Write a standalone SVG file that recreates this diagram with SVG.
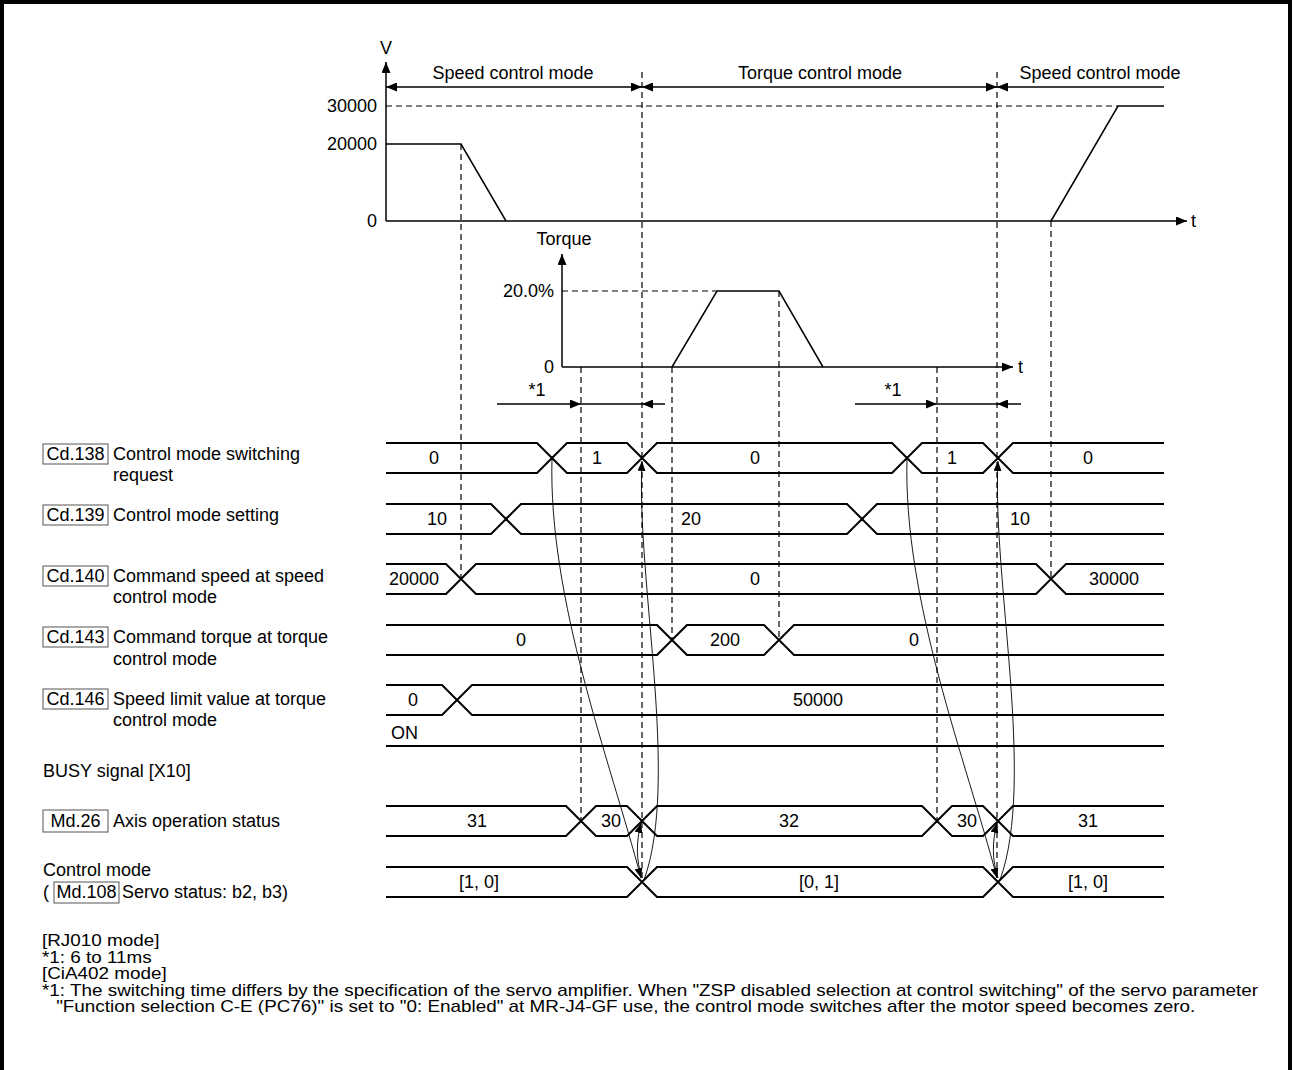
<svg xmlns="http://www.w3.org/2000/svg" width="1293" height="1070" viewBox="0 0 1293 1070">
<defs>
<style>
text{font-family:"Liberation Sans",Arial,sans-serif;font-size:18px;fill:#000}
.fn{font-size:16px}
.m{text-anchor:middle}
.e{text-anchor:end}
.ax{stroke:#000;stroke-width:1.5;fill:none}
.dash{stroke:#000;stroke-width:1.2;stroke-dasharray:6 4;fill:none}
.sig{stroke:#000;stroke-width:2;fill:none}
.cur{stroke:#000;stroke-width:0.9;fill:none}
.box{fill:#fff;stroke:#555;stroke-width:1}
</style>
<marker id="arr" markerUnits="userSpaceOnUse" markerWidth="11" markerHeight="9" refX="11" refY="4.5" orient="auto-start-reverse"><path d="M0,0 L11,4.5 L0,9 z" fill="#000"/></marker>
<marker id="arrS" markerUnits="userSpaceOnUse" markerWidth="10" markerHeight="8" refX="10" refY="4" orient="auto"><path d="M0,0 L10,4 L0,8 z" fill="#000"/></marker>
</defs>
<rect width="1293" height="1070" fill="#fff"/>
<path d="M2,1070 V2 H1290 V1070" stroke="#000" stroke-width="4" fill="none"/>

<g id="speed-chart">
<line class="ax" x1="386" y1="221" x2="386" y2="62" marker-end="url(#arr)"/>
<line class="ax" x1="386" y1="221" x2="1187" y2="221" marker-end="url(#arr)"/>
<text x="386" y="54" class="m">V</text>
<text x="1191" y="227">t</text>
<text x="377" y="112" class="e">30000</text>
<text x="377" y="150" class="e">20000</text>
<text x="377" y="227" class="e">0</text>
<line class="dash" x1="386" y1="106" x2="1118" y2="106"/>
<path class="ax" d="M386,144 H461 L506,221"/>
<path class="ax" d="M1051,221 L1118,106 H1164"/>
<line class="ax" x1="386" y1="87" x2="642" y2="87" marker-start="url(#arr)" marker-end="url(#arr)"/>
<line class="ax" x1="642" y1="87" x2="997" y2="87" marker-start="url(#arr)" marker-end="url(#arr)"/>
<line class="ax" x1="997" y1="87" x2="1164" y2="87" marker-start="url(#arr)"/>
<text x="513" y="79" class="m">Speed control mode</text>
<text x="820" y="79" class="m">Torque control mode</text>
<text x="1100" y="79" class="m">Speed control mode</text>
</g>

<g id="torque-chart">
<line class="ax" x1="562" y1="367" x2="562" y2="254" marker-end="url(#arr)"/>
<line class="ax" x1="562" y1="367" x2="1013" y2="367" marker-end="url(#arr)"/>
<text x="564" y="245" class="m">Torque</text>
<text x="1018" y="373">t</text>
<text x="554" y="297" class="e">20.0%</text>
<text x="554" y="373" class="e">0</text>
<line class="dash" x1="562" y1="291" x2="717" y2="291"/>
<path class="ax" d="M672,367 L717,291 H779 L823,367"/>
<text x="537" y="396" class="m">*1</text>
<text x="893" y="396" class="m">*1</text>
<line class="ax" x1="497" y1="404" x2="581" y2="404" marker-end="url(#arr)"/>
<line class="ax" x1="581" y1="404" x2="642" y2="404"/>
<line class="ax" x1="665" y1="404" x2="642" y2="404" marker-end="url(#arr)"/>
<line class="ax" x1="855" y1="404" x2="937" y2="404" marker-end="url(#arr)"/>
<line class="ax" x1="937" y1="404" x2="997" y2="404"/>
<line class="ax" x1="1021" y1="404" x2="997" y2="404" marker-end="url(#arr)"/>
</g>

<g id="guides">
<line class="dash" x1="461" y1="144" x2="461" y2="579"/>
<line class="dash" x1="642" y1="72" x2="642" y2="882"/>
<line class="dash" x1="997" y1="72" x2="997" y2="882"/>
<line class="dash" x1="1051" y1="221" x2="1051" y2="579"/>
<line class="dash" x1="581" y1="367" x2="581" y2="821"/>
<line class="dash" x1="937" y1="367" x2="937" y2="821"/>
<line class="dash" x1="672" y1="367" x2="672" y2="640"/>
<line class="dash" x1="779" y1="291" x2="779" y2="640"/>
</g>

<g id="cd138">
<rect class="box" x="43" y="444" width="65" height="20"/>
<text x="75.5" y="460" class="m">Cd.138</text>
<text x="113" y="460">Control mode switching</text>
<text x="113" y="481">request</text>
<path class="sig" d="M386,443 H537 L552,458 L537,473 H386 M552,458 L567,443 H627 L642,458 L627,473 H567 Z M642,458 L657,443 H892 L907,458 L892,473 H657 Z M907,458 L922,443 H983 L998,458 L983,473 H922 Z M1164,443 H1013 L998,458 L1013,473 H1164"/>
<text x="434" y="464" class="m">0</text>
<text x="597" y="464" class="m">1</text>
<text x="755" y="464" class="m">0</text>
<text x="952" y="464" class="m">1</text>
<text x="1088" y="464" class="m">0</text>
</g>

<g id="cd139">
<rect class="box" x="43" y="505" width="65" height="20"/>
<text x="75.5" y="521" class="m">Cd.139</text>
<text x="113" y="521">Control mode setting</text>
<path class="sig" d="M386,504 H491 L506,519 L491,534 H386 M506,519 L521,504 H847 L862,519 L847,534 H521 Z M1164,504 H877 L862,519 L877,534 H1164"/>
<text x="437" y="525" class="m">10</text>
<text x="691" y="525" class="m">20</text>
<text x="1020" y="525" class="m">10</text>
</g>

<g id="cd140">
<rect class="box" x="43" y="566" width="65" height="20"/>
<text x="75.5" y="582" class="m">Cd.140</text>
<text x="113" y="582">Command speed at speed</text>
<text x="113" y="603">control mode</text>
<path class="sig" d="M386,564 H446 L461,579 L446,594 H386 M461,579 L476,564 H1036 L1051,579 L1036,594 H476 Z M1164,564 H1066 L1051,579 L1066,594 H1164"/>
<text x="414" y="585" class="m">20000</text>
<text x="755" y="585" class="m">0</text>
<text x="1114" y="585" class="m">30000</text>
</g>

<g id="cd143">
<rect class="box" x="43" y="627" width="65" height="20"/>
<text x="75.5" y="643" class="m">Cd.143</text>
<text x="113" y="643">Command torque at torque</text>
<text x="113" y="665">control mode</text>
<path class="sig" d="M386,625 H657 L672,640 L657,655 H386 M672,640 L687,625 H764 L779,640 L764,655 H687 Z M1164,625 H794 L779,640 L794,655 H1164"/>
<text x="521" y="646" class="m">0</text>
<text x="725" y="646" class="m">200</text>
<text x="914" y="646" class="m">0</text>
</g>

<g id="cd146">
<rect class="box" x="43" y="689" width="65" height="20"/>
<text x="75.5" y="705" class="m">Cd.146</text>
<text x="113" y="705">Speed limit value at torque</text>
<text x="113" y="726">control mode</text>
<path class="sig" d="M386,685 H442 L457,700 L442,715 H386 M1164,685 H472 L457,700 L472,715 H1164"/>
<text x="413" y="706" class="m">0</text>
<text x="818" y="706" class="m">50000</text>
</g>

<g id="busy">
<text x="43" y="777">BUSY signal [X10]</text>
<text x="391" y="739">ON</text>
<path class="sig" d="M386,746 H1164"/>
</g>

<g id="md26">
<rect class="box" x="43" y="810" width="65" height="22"/>
<text x="75.5" y="827" class="m">Md.26</text>
<text x="113" y="827">Axis operation status</text>
<path class="sig" d="M386,806 H566 L581,821 L566,836 H386 M581,821 L596,806 H627 L642,821 L627,836 H596 Z M642,821 L657,806 H922 L937,821 L922,836 H657 Z M937,821 L952,806 H983 L998,821 L983,836 H952 Z M1164,806 H1013 L998,821 L1013,836 H1164"/>
<text x="477" y="827" class="m">31</text>
<text x="611" y="827" class="m">30</text>
<text x="789" y="827" class="m">32</text>
<text x="967" y="827" class="m">30</text>
<text x="1088" y="827" class="m">31</text>
</g>

<g id="md108">
<text x="43" y="876">Control mode</text>
<text x="43" y="898">(</text>
<rect class="box" x="54" y="882" width="65" height="21"/>
<text x="86.5" y="898" class="m">Md.108</text>
<text x="122" y="898">Servo status: b2, b3)</text>
<path class="sig" d="M386,867 H627 L642,882 L627,897 H386 M642,882 L657,867 H983 L998,882 L983,897 H657 Z M1164,867 H1013 L998,882 L1013,897 H1164"/>
<text x="479" y="888" class="m">[1, 0]</text>
<text x="819" y="888" class="m">[0, 1]</text>
<text x="1088" y="888" class="m">[1, 0]</text>
</g>

<g id="connectors">
<path class="cur" d="M552,458 C548,600 610,760 641,878" marker-end="url(#arrS)"/>
<path class="cur" d="M644,880 C680,780 636,580 642,461" marker-end="url(#arrS)"/>
<path class="cur" d="M642,878 C636,860 636,842 641,823" marker-end="url(#arrS)"/>
<path class="cur" d="M907,458 C903,600 966,760 997,878" marker-end="url(#arrS)"/>
<path class="cur" d="M1000,880 C1036,780 992,580 998,461" marker-end="url(#arrS)"/>
<path class="cur" d="M998,878 C992,860 992,842 997,823" marker-end="url(#arrS)"/>
</g>

<g id="notes" transform="translate(42 0) scale(1.18 1) translate(-42 0)">
<text class="fn" x="42" y="946">[RJ010 mode]</text>
<text class="fn" x="42" y="963">*1: 6 to 11ms</text>
<text class="fn" x="42" y="979">[CiA402 mode]</text>
<text class="fn" x="42" y="996">*1: The switching time differs by the specification of the servo amplifier. When "ZSP disabled selection at control switching" of the servo parameter</text>
<text class="fn" x="54" y="1012">"Function selection C-E (PC76)" is set to "0: Enabled" at MR-J4-GF use, the control mode switches after the motor speed becomes zero.</text>
</g>
</svg>
